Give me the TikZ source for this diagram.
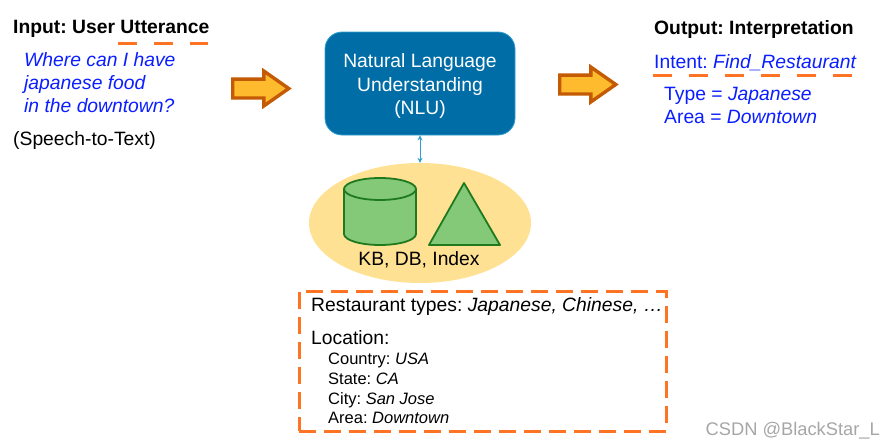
\documentclass[tikz,border=0pt]{standalone}
\usepackage{fontspec}
\usepackage{xcolor}
\setmainfont{Liberation Sans}
\usetikzlibrary{positioning, arrows.meta, shapes.geometric, shapes.arrows}
\definecolor{cNLU}{HTML}{006DA6}
\definecolor{cNLUedge}{HTML}{2E9FD0}
\definecolor{cDash}{HTML}{FF7424}
\definecolor{cArrow}{HTML}{FFBB2E}
\definecolor{cArrowedge}{HTML}{C55A05}
\definecolor{cStore}{HTML}{FFE193}
\definecolor{cShape}{HTML}{83C978}
\definecolor{cShapeedge}{HTML}{1F7A1F}
\definecolor{cBlue}{HTML}{0A1EFF}
\tikzset{
  plain/.style={
    anchor=north west,
    inner sep=0pt,
    align=left,
    text=black,
    font=\fontsize{19.3}{23}\selectfont\frenchspacing
  },
  heading/.style={
    plain,
    font=\fontsize{19.3}{23}\selectfont\frenchspacing\bfseries
  },
  bluetext/.style={
    plain,
    text=cBlue
  },
  smalltext/.style={
    plain,
    font=\fontsize{16.5}{19.7}\selectfont\frenchspacing
  },
  nlubox/.style={
    draw=cNLUedge, line width=0.8pt,
    rounded corners=17pt,
    fill=cNLU,
    text=white,
    align=center,
    minimum width=190pt,
    minimum height=103pt,
    font=\fontsize{19.3}{23.5}\selectfont
  },
  bigarrow/.style={
    single arrow,
    draw=cArrowedge, line width=3.4pt,
    fill=cArrow,
    inner sep=0pt,
    text width=1pt,
    text height=15.5pt,
    text depth=0pt,
    minimum height=56pt,
    single arrow tip angle=70,
    single arrow head extend=8pt,
    single arrow head indent=0pt
  },
  storeshape/.style={
    draw=cShapeedge, line width=1.8pt,
    fill=cShape,
    line join=round
  },
  link/.style={
    {Stealth[length=5pt,width=5pt]}-{Stealth[length=5pt,width=5pt]},
    line width=1pt,
    draw=cNLUedge
  },
  dashline/.style={
    draw=cDash, line width=3pt,
    dash pattern=on 19pt off 17pt
  }
}

\begin{document}
\begin{tikzpicture}[x=1pt, y=-1pt]
  \useasboundingbox (0,0) rectangle (895,447);

  % input side
  \node[heading] (inputtitle) at (13,20) {Input: User Utterance};
  \coordinate (ustart) at (118,43);
  \coordinate (uend) at (208,43);
  \draw[dashline] (ustart) -- (uend);
  \node[bluetext] (query) at (24,52.5) {\itshape Where can I have\\\itshape japanese food\\\itshape in the downtown?};
  \node[plain] (speech) at (13,131) {(Speech-to-Text)};
  \node[bigarrow] (leftarrow) at (254,88.5) {};

  % middle
  \node[nlubox] (nlu) at (420,83.5) {\rule{0pt}{19pt}Natural Language\\Understanding\\(NLU)};
  \node[ellipse, fill=cStore, minimum width=222pt, minimum height=120pt, inner sep=0pt] (store) at (420,223) {};
  \draw[link] (nlu.south) -- (store.north);
  \draw[storeshape] (344,189) -- (344,234) arc[start angle=180, end angle=360, x radius=36pt, y radius=11pt] -- (416,189);
  \draw[storeshape] (380,189) ellipse[x radius=36pt, y radius=11pt];
  \draw[storeshape] (429,245) -- (464,183) -- (500,245) -- cycle;
  \node[plain, anchor=center] (storelabel) at (419,260) {KB, DB, Index};

  % output side
  \node[bigarrow] (rightarrow) at (581,84.5) {};
  \node[heading] (outputtitle) at (654,20) {Output: Interpretation};
  \node[bluetext] (intent) at (654,54) {Intent: \textit{Find\_Restaurant}};
  \coordinate (istart) at (653,75);
  \coordinate (iend) at (855,75);
  \draw[dashline] (istart) -- (iend);
  \node[bluetext] (slots) at (664,87.5) {Type = \textit{Japanese}\\Area = \textit{Downtown}};

  % knowledge box
  \node[draw=cDash, line width=3pt, dash pattern=on 17pt off 8pt, minimum width=367pt, minimum height=140pt, inner sep=0pt] (kbbox) at (482.5,361) {};
  \node[plain] (types) at (311,297) {Restaurant types: \textit{Japanese, Chinese, \dots}};
  \node[plain] (location) at (311,330) {Location:};
  \node[smalltext] (locdetail) at (328,353) {Country: \textit{USA}\\State: \textit{CA}\\City: \textit{San Jose}\\Area: \textit{Downtown}};

  \node[plain, anchor=base east, text=black!35, font=\fontsize{18.3}{19}\selectfont] (mark) at (880,435) {CSDN @BlackStar\_L};
\end{tikzpicture}
\end{document}
